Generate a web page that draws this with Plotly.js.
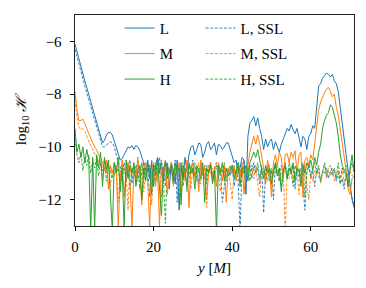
<!DOCTYPE html>
<html>
<head>
<meta charset="utf-8">
<script src="https://cdn.plot.ly/plotly-3.0.1.min.js"></script>
<style>html,body{margin:0;padding:0;background:#fff;}#chart{width:366px;height:288px;}</style>
</head>
<body>
<div id="chart"></div>
<script>
// y positions [M], step 0.5
const yPos = [0,0.5,1,1.5,2,2.5,3,3.5,4,4.5,5,5.5,6,6.5,7,7.5,8,8.5,9,9.5,
10,10.5,11,11.5,12,12.5,13,13.5,14,14.5,15,15.5,16,16.5,17,17.5,18,18.5,19,19.5,
20,20.5,21,21.5,22,22.5,23,23.5,24,24.5,25,25.5,26,26.5,27,27.5,28,28.5,29,29.5,
30,30.5,31,31.5,32,32.5,33,33.5,34,34.5,35,35.5,36,36.5,37,37.5,38,38.5,39,39.5,
40,40.5,41,41.5,42,42.5,43,43.5,44,44.5,45,45.5,46,46.5,47,47.5,48,48.5,49,49.5,
50,50.5,51,51.5,52,52.5,53,53.5,54,54.5,55,55.5,56,56.5,57,57.5,58,58.5,59,59.5,
60,60.5,61,61.5,62,62.5,63,63.5,64,64.5,65,65.5,66,66.5,67,67.5,68,68.5,69,69.5,
70,70.5,71];

const L = [-6.1,-6.4,-6.7,-6.95,-7.2,-7.5,-7.75,-8.0,-8.25,-8.5,
-8.8,-9.05,-9.3,-9.6,-9.85,-9.75,-9.55,-9.45,-9.45,-9.55,
-9.8,-10.1,-10.35,-10.5,-10.45,-10.3,-10.1,-10.0,-10.05,-9.95,
-10.1,-9.95,-10.0,-10.15,-10.4,-10.6,-10.9,-10.5,-11.2,-10.6,
-11.5,-10.7,-10.4,-11.0,-10.6,-11.3,-10.5,-10.8,-11.6,-10.6,
-10.9,-11.4,-10.5,-12.4,-10.8,-11.2,-10.4,-10.9,-10.3,-10.0,
-9.95,-10.3,-10.1,-9.85,-9.9,-10.4,-10.2,-9.9,-9.8,-10.1,
-10.0,-9.85,-10.3,-9.9,-9.95,-10.1,-10.0,-9.85,-9.85,-10.1,
-10.3,-10.6,-10.5,-11.0,-10.8,-10.4,-10.5,-11.8,-9.6,-9.1,
-9.0,-8.85,-9.2,-8.9,-9.3,-9.6,-10.1,-9.7,-10.0,-9.8,
-9.7,-10.1,-9.8,-10.0,-10.2,-9.9,-9.7,-9.5,-9.3,-9.4,
-9.15,-9.35,-9.5,-9.3,-9.7,-10.0,-9.6,-9.7,-10.1,-9.6,
-9.5,-9.2,-9.3,-8.4,-7.7,-7.6,-7.4,-7.3,-7.2,-7.25,
-7.35,-7.25,-7.5,-7.6,-7.9,-8.5,-9.2,-9.7,-10.3,-10.9,
-11.5,-12.0,-12.3];

const M = [-7.9,-8.6,-9.0,-9.0,-8.95,-9.1,-9.3,-9.5,-9.7,-9.85,
-10.0,-10.1,-10.3,-10.4,-10.6,-10.9,-10.5,-11.6,-10.7,-11.0,
-10.6,-10.8,-13.0,-11.3,-10.5,-11.9,-10.9,-10.6,-11.4,-13.0,
-10.7,-11.2,-10.5,-11.0,-12.2,-10.8,-10.6,-11.3,-13.0,-10.9,
-10.6,-11.5,-10.8,-13.0,-10.7,-11.1,-10.5,-11.8,-10.9,-10.6,
-11.3,-10.8,-11.0,-10.6,-11.9,-10.7,-11.2,-10.5,-12.3,-10.8,
-10.6,-11.1,-10.8,-11.7,-10.5,-11.0,-10.7,-12.0,-10.9,-10.6,
-11.2,-10.8,-11.5,-10.6,-10.9,-11.3,-10.7,-12.1,-10.8,-10.9,
-11.0,-10.7,-11.3,-10.8,-11.1,-10.6,-11.8,-10.9,-10.7,-10.2,
-9.9,-9.6,-9.9,-9.55,-9.9,-10.3,-10.8,-11.4,-10.5,-10.9,
-11.9,-10.6,-10.3,-10.7,-10.2,-10.4,-11.2,-10.3,-10.25,-10.6,
-10.2,-10.4,-10.15,-11.0,-10.3,-10.2,-11.9,-10.5,-10.4,-10.7,
-10.3,-10.5,-9.8,-9.2,-8.6,-8.3,-8.1,-7.95,-7.8,-7.75,
-7.9,-8.1,-8.0,-8.5,-8.8,-9.3,-9.9,-10.4,-10.9,-11.6,
-11.8,-11.2,-11.1];

const H = [-9.3,-10.2,-9.9,-10.4,-10.0,-10.6,-10.1,-10.5,-13.2,-10.4,
-13.1,-10.3,-10.8,-10.2,-11.5,-10.4,-10.9,-10.5,-11.8,-13.2,
-10.6,-11.0,-10.4,-11.7,-10.8,-13.1,-10.5,-11.2,-10.7,-11.0,
-10.6,-11.5,-10.9,-10.7,-12.0,-10.8,-11.3,-10.6,-10.9,-11.8,
-10.7,-11.1,-10.5,-11.4,-12.6,-10.8,-10.6,-11.2,-10.9,-10.7,
-11.3,-10.6,-11.0,-10.8,-12.2,-10.7,-10.9,-11.5,-10.6,-11.0,
-10.8,-11.6,-10.7,-10.9,-11.2,-10.6,-12.1,-10.8,-11.0,-10.7,
-11.4,-10.9,-13.2,-10.7,-11.0,-10.6,-11.3,-10.8,-11.1,-10.9,
-10.7,-11.2,-10.9,-10.6,-11.5,-10.8,-11.0,-10.7,-11.3,-10.6,
-10.4,-10.2,-10.4,-10.1,-10.5,-10.9,-11.2,-10.7,-11.0,-10.8,
-11.4,-10.9,-10.6,-11.1,-10.8,-11.7,-10.9,-10.7,-11.2,-10.8,
-11.0,-10.6,-11.3,-10.8,-10.9,-11.5,-10.7,-11.0,-10.6,-10.8,
-10.5,-10.9,-10.4,-10.7,-10.2,-9.9,-9.3,-9.0,-8.8,-8.7,
-8.4,-8.5,-8.8,-9.1,-9.6,-10.3,-10.7,-10.9,-11.0,-11.5,
-10.8,-10.3,-10.9];

const L_SSL = [-6.3,-6.6,-6.9,-7.15,-7.4,-7.7,-7.95,-8.2,-8.45,-8.7,
-9.0,-9.25,-9.5,-9.8,-10.0,-10.0,-9.95,-9.85,-9.8,-9.85,
-10.0,-10.3,-10.55,-10.7,-11.0,-10.6,-11.3,-10.8,-10.5,-11.4,
-10.7,-11.0,-10.4,-11.6,-10.9,-10.6,-11.2,-10.8,-11.9,-10.5,
-10.9,-11.3,-10.7,-10.4,-11.1,-10.8,-11.5,-10.6,-11.0,-10.7,
-11.4,-10.5,-12.1,-10.9,-10.6,-11.2,-10.8,-11.7,-10.7,-10.9,
-10.5,-11.1,-10.8,-11.4,-10.6,-10.9,-11.2,-10.7,-11.0,-10.6,
-11.3,-10.8,-10.6,-11.0,-10.9,-12.1,-11.4,-10.9,-10.8,-11.1,
-10.7,-11.5,-10.9,-11.2,-13.2,-10.8,-10.5,-11.3,-10.9,-10.7,
-11.2,-10.6,-11.0,-10.8,-11.4,-10.7,-12.5,-11.0,-10.8,-11.3,
-10.9,-12.0,-10.7,-11.1,-10.8,-11.5,-10.9,-10.6,-11.2,-10.8,
-11.0,-10.7,-11.6,-10.9,-11.1,-10.8,-11.4,-12.4,-11.0,-10.7,
-11.2,-10.9,-11.5,-10.8,-11.1,-11.3,-10.9,-11.0,-10.8,-11.2,
-10.9,-11.1,-10.8,-11.3,-11.0,-11.4,-11.2,-11.6,-11.0,-11.3,
-11.5,-11.9,-12.2];

const M_SSL = [-8.2,-8.9,-9.25,-9.35,-9.3,-9.4,-9.6,-9.8,-9.95,-10.1,
-10.25,-10.4,-10.55,-10.7,-11.2,-10.8,-11.0,-10.6,-11.5,-10.9,
-11.1,-10.7,-12.1,-10.9,-11.3,-10.8,-11.0,-12.4,-10.7,-11.2,
-10.9,-11.4,-10.8,-11.1,-10.6,-11.7,-10.9,-11.0,-10.7,-12.2,
-11.0,-10.8,-11.3,-10.6,-11.9,-10.9,-11.2,-10.7,-11.0,-10.8,
-11.5,-10.7,-11.1,-12.0,-10.9,-10.6,-11.3,-10.8,-11.0,-11.6,
-10.7,-11.2,-10.9,-10.6,-11.4,-10.8,-11.1,-12.3,-10.7,-11.0,
-10.8,-11.3,-10.6,-11.0,-11.7,-10.9,-10.7,-11.2,-10.8,-11.4,
-12.0,-10.9,-11.1,-10.7,-11.3,-10.8,-10.9,-11.5,-10.6,-11.0,
-10.8,-11.2,-10.7,-11.4,-11.9,-10.9,-11.1,-10.8,-11.3,-10.7,
-11.6,-10.9,-11.0,-10.6,-11.3,-11.1,-10.8,-13.2,-10.9,-11.2,
-10.7,-11.3,-11.0,-10.8,-11.8,-10.9,-11.1,-10.7,-11.5,-12.0,
-11.0,-11.3,-10.9,-11.1,-10.8,-11.4,-11.0,-10.7,-11.2,-10.9,
-11.1,-10.8,-11.3,-11.0,-10.9,-11.2,-10.8,-11.4,-11.0,-11.2,
-10.9,-11.1,-11.0];

const H_SSL = [-9.7,-10.3,-10.6,-10.2,-10.9,-10.4,-10.7,-10.3,-11.0,-10.5,
-10.8,-10.4,-11.1,-10.6,-10.9,-10.5,-11.3,-10.7,-10.9,-11.2,
-10.6,-11.0,-10.8,-11.4,-10.7,-10.9,-11.1,-10.6,-11.6,-10.8,
-11.0,-10.7,-11.3,-10.9,-10.6,-11.2,-10.8,-11.0,-10.7,-11.4,
-10.9,-10.6,-11.1,-10.8,-10.5,-11.3,-12.9,-10.7,-11.0,-10.6,
-10.9,-11.2,-10.7,-11.0,-10.6,-11.5,-10.8,-10.9,-11.1,-10.7,
-11.0,-10.6,-11.3,-10.8,-10.9,-11.1,-10.7,-11.4,-10.8,-10.6,
-11.1,-10.9,-10.7,-11.2,-10.8,-11.0,-10.6,-11.3,-10.9,-10.7,
-11.0,-10.8,-11.2,-10.6,-10.9,-11.1,-10.7,-11.0,-10.8,-11.3,
-10.7,-10.9,-11.0,-10.6,-11.2,-10.8,-10.9,-11.4,-10.7,-11.0,
-10.8,-11.1,-10.6,-10.9,-11.3,-10.7,-11.0,-10.8,-11.2,-10.6,
-10.9,-11.5,-10.7,-11.0,-10.8,-11.2,-10.6,-11.9,-10.9,-10.7,
-11.1,-10.8,-10.6,-11.0,-10.7,-11.3,-10.9,-10.6,-11.1,-10.8,
-10.7,-11.0,-10.9,-11.2,-10.6,-11.4,-10.8,-11.0,-10.7,-11.1,
-10.9,-10.6,-11.0];

const names = ['L', 'M', 'H', 'L, SSL', 'M, SSL', 'H, SSL'];
const colors = ['#1f77b4', '#ff7f0e', '#2ca02c'];
const xTicks = [0, 20, 40, 60];
const yTicks = [-12, -10, -8, -6];

const FONT = 'Liberation Serif, Times New Roman, serif';
const FS = 15;

function tr(yv, name, color, dashed, legend) {
  return {
    type: 'scatter', mode: 'lines', x: yPos, y: yv, name: name,
    legend: legend, legendgroup: name,
    line: {color: color, width: dashed ? 0.9 : 1, dash: dashed ? '3px,1.6px' : 'solid'},
    hoverinfo: 'skip'
  };
}

const data = [
  tr(L_SSL, names[3], colors[0], true, 'legend2'),
  tr(M_SSL, names[4], colors[1], true, 'legend2'),
  tr(H_SSL, names[5], colors[2], true, 'legend2'),
  tr(L, names[0], colors[0], false, 'legend'),
  tr(M, names[1], colors[1], false, 'legend'),
  tr(H, names[2], colors[2], false, 'legend')
];

const legendCommon = {
  bgcolor: 'rgba(0,0,0,0)', borderwidth: 0,
  font: {family: FONT, size: FS, color: '#000'},
  traceorder: 'grouped', tracegroupgap: 3,
  xanchor: 'left', yanchor: 'top', y: 1.015
};

const layout = {
  width: 366, height: 288,
  margin: {l: 75, r: 12, t: 12, b: 62},
  paper_bgcolor: '#fff', plot_bgcolor: '#fff',
  font: {family: FONT, size: FS, color: '#000'},
  showlegend: true,
  legend: Object.assign({}, legendCommon, {x: 0.16}),
  legend2: Object.assign({}, legendCommon, {x: 0.45}),
  xaxis: {
    range: [0, 71], tickvals: xTicks, ticktext: xTicks.map(String),
    ticks: 'outside', ticklen: 4, tickwidth: 1, tickcolor: '#000',
    ticklabelstandoff: 3,
    showgrid: false, zeroline: false,
    showline: true, linecolor: '#222', linewidth: 1.4, mirror: true,
    title: {text: '<i>y</i> [<i>M</i>]', font: {family: FONT, size: FS}, standoff: 8}
  },
  yaxis: {
    range: [-13, -5], tickvals: yTicks, ticktext: yTicks.map(v => '\u2212' + Math.abs(v)),
    ticks: 'outside', ticklen: 4, tickwidth: 1, tickcolor: '#000',
    ticklabelstandoff: 5,
    showgrid: false, zeroline: false,
    showline: true, linecolor: '#222', linewidth: 1.4, mirror: true,
    title: {text: 'log<sub>10</sub> <i>\u210B</i>', font: {family: FONT, size: FS}, standoff: 8}
  }
};

Plotly.newPlot('chart', data, layout, {staticPlot: true, displayModeBar: false});
</script>
</body>
</html>
